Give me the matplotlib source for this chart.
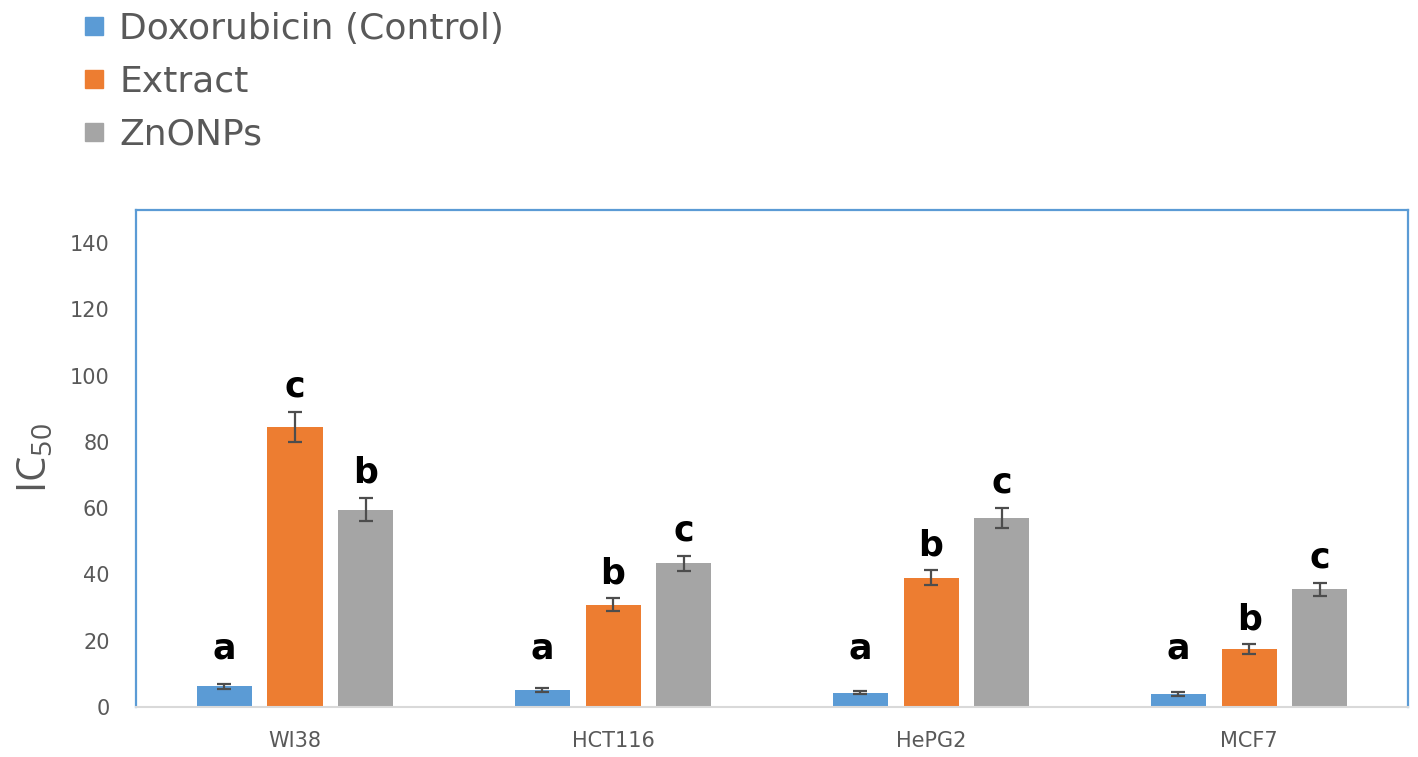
import matplotlib
matplotlib.use("Agg")
import matplotlib.pyplot as plt
from matplotlib.lines import Line2D
import numpy as np

plt.rcParams['font.family'] = ['Open Sans', 'DejaVu Sans']
wide_font = 'DejaVu Sans'

# data
cells = ["WI38", "HCT116", "HePG2", "MCF7"]
series = ["Doxorubicin (Control)", "Extract", "ZnONPs"]
dox = [6.3, 5.1, 4.3, 3.9]
extract = [84.6, 30.9, 39.0, 17.5]
znonps = [59.6, 43.4, 57.1, 35.5]
dox_err = [0.8, 0.5, 0.5, 0.5]
extract_err = [4.5, 2.0, 2.3, 1.5]
znonps_err = [3.6, 2.3, 3.0, 2.0]
letters_dox = ["a", "a", "a", "a"]
letters_extract = ["c", "b", "b", "b"]
letters_zn = ["b", "c", "c", "c"]

colors = ["#5B9BD5", "#ED7D31", "#A5A5A5"]
txt_gray = "#595959"

fig = plt.figure(figsize=(14.18, 7.57), dpi=100)
ax = fig.add_axes([0.0959, 0.066, 0.8971, 0.6566])

x = np.arange(len(cells))
w = 0.173
step = 0.222
vals = [dox, extract, znonps]
errs = [dox_err, extract_err, znonps_err]
lets = [letters_dox, letters_extract, letters_zn]

for i in range(3):
    xs = x + (i - 1) * step
    ax.bar(xs, vals[i], width=w, color=colors[i], zorder=2)
    ax.errorbar(xs, vals[i], yerr=errs[i], fmt="none", ecolor="#4d4d4d",
                elinewidth=1.6, capsize=5, capthick=1.6, zorder=3)
    for xx, v, e, t in zip(xs, vals[i], errs[i], lets[i]):
        ypos = max(v + e + 4.5, 14.5)
        ax.text(xx, ypos, t, ha="center", va="baseline", color="black",
                fontsize=25, fontweight="bold", family=wide_font)

ax.set_xlim(-0.5, len(cells) - 0.5)
ax.set_ylim(0, 150)
ax.set_yticks(range(0, 141, 20))
ax.set_xticks(x)
ax.set_xticklabels(cells)
ax.tick_params(axis="both", length=0, labelsize=15, colors=txt_gray)
ax.tick_params(axis="x", pad=17)
ax.tick_params(axis="y", pad=19)
for lbl in ax.get_xticklabels() + ax.get_yticklabels():
    lbl.set_family(wide_font)

for s in ["left", "top", "right"]:
    ax.spines[s].set_color("#5B9BD5")
    ax.spines[s].set_linewidth(1.6)
ax.spines["bottom"].set_color("#D9D9D9")
ax.spines["bottom"].set_linewidth(1.5)

ax.set_ylabel(r"IC$_{\mathregular{50}}$", fontsize=29, color=txt_gray, labelpad=10)

handles = [Line2D([], [], marker="s", linestyle="none", markersize=13,
                  markerfacecolor=c, markeredgecolor=c) for c in colors]
leg = fig.legend(handles, series, loc="upper left", bbox_to_anchor=(0.032, 1.027),
                 frameon=False, prop={"family": wide_font, "size": 26},
                 labelspacing=0.52, handletextpad=0.25, handlelength=0.9)
for t in leg.get_texts():
    t.set_color(txt_gray)

fig.savefig("out.png", dpi=100)
